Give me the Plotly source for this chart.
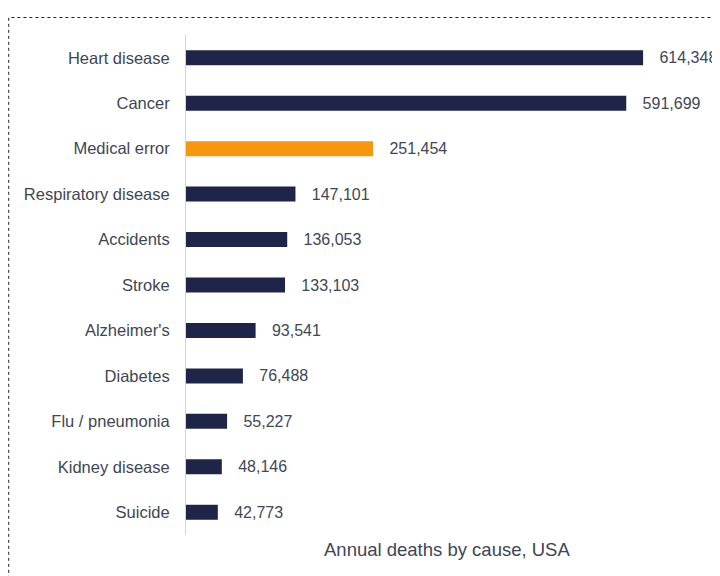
import plotly.graph_objects as go

causes = ["Heart disease", "Cancer", "Medical error", "Respiratory disease", "Accidents",
          "Stroke", "Alzheimer's", "Diabetes", "Flu / pneumonia", "Kidney disease", "Suicide"]
deaths = [614348, 591699, 251454, 147101, 136053, 133103, 93541, 76488, 55227, 48146, 42773]
highlight = "Medical error"

NAVY = "#1f2548"
ORANGE = "#f7960f"
colors = [ORANGE if c == highlight else NAVY for c in causes]
labels = ["\u00a0\u00a0\u00a0" + f"{v:,}" for v in deaths]

fig = go.Figure(go.Bar(
    x=deaths, y=causes, orientation="h",
    marker=dict(color=colors, line=dict(width=0)),
    width=0.33,
    text=labels, textposition="outside", cliponaxis=False, constraintext="none",
    textfont=dict(family="Liberation Sans, Arial, sans-serif", size=16, color="#404856"),
))

fig.update_layout(
    width=720, height=568,
    margin=dict(l=178, r=8, t=27, b=41),
    plot_bgcolor="white", paper_bgcolor="white",
    showlegend=False,
    font=dict(family="Liberation Sans, Arial, sans-serif", color="#3e4656", size=16),
    xaxis=dict(range=[0, 717700], visible=False, showgrid=False, zeroline=False),
    yaxis=dict(categoryorder="array", categoryarray=causes[::-1], showgrid=False,
               zeroline=False, showline=True, linecolor="#d3d3de", linewidth=1,
               ticks="", ticklabelstandoff=12,
               tickfont=dict(size=16.5, color="#3e4656")),
    shapes=[dict(type="rect", xref="paper", yref="paper",
                 x0=-0.332, x1=1.2, y0=-0.3, y1=1.035,
                 line=dict(color="#222222", width=1, dash="dot"))],
    annotations=[dict(text="Annual deaths by cause, USA", xref="paper", yref="paper",
                      x=0.488, y=-0.028, xanchor="center", yanchor="middle", showarrow=False,
                      font=dict(size=18.5, color="#3e4656"))],
)

fig.write_html("out.html")
